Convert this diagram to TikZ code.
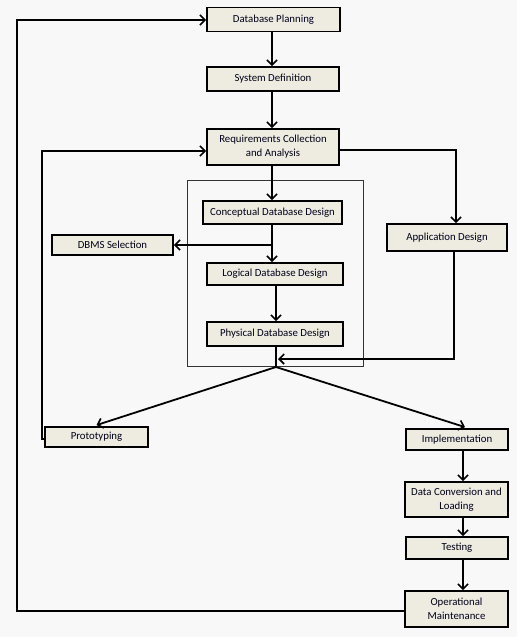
\documentclass[tikz,border=0pt]{standalone}
\usepackage{fontspec}
\setmainfont{Carlito}
\usetikzlibrary{arrows.meta,positioning,calc}
\definecolor{bg}{HTML}{F8F8F8}
\definecolor{boxfill}{HTML}{EEEBE0}
\tikzset{
  stepbox/.style={draw=black,line width=1.8pt,fill=boxfill,inner sep=1pt,align=center,font=\fontsize{10.8}{14}\selectfont,text=black!90!blue},
  conn/.style={line width=1.8pt,-{Straight Barb[length=5pt,width=10pt,line width=1.6pt]}},
  plain/.style={line width=1.8pt},
}
\begin{document}
\begin{tikzpicture}[x=1pt,y=-1pt]
\fill[bg] (0,0) rectangle (517,637);
\useasboundingbox (0,0) rectangle (517,637);
% outer thin frame
\draw[line width=0.8pt, black!80] (187,180) rectangle (363,366);
\node[stepbox,minimum width=133pt,minimum height=24pt] (dp) at (273.5,19.5) {Database Planning};
\node[stepbox,minimum width=132pt,minimum height=24pt] (sd) at (273,79) {System Definition};
\node[stepbox,minimum width=132pt,minimum height=36pt] (req) at (273,147) {Requirements Collection\\and Analysis};
\node[stepbox,minimum width=139pt,minimum height=23pt] (con) at (272.5,212.5) {Conceptual Database Design};
\node[stepbox,minimum width=121pt,minimum height=20pt] (dbms) at (112.5,245) {DBMS Selection};
\node[stepbox,minimum width=136pt,minimum height=22pt] (log) at (275,274) {Logical Database Design};
\node[stepbox,minimum width=136pt,minimum height=24pt] (phy) at (275,334) {Physical Database Design};
\node[stepbox,minimum width=120pt,minimum height=27pt] (app) at (447,237.5) {Application Design};
\node[stepbox,minimum width=103pt,minimum height=20pt] (proto) at (96.5,437) {Prototyping};
\node[stepbox,minimum width=102pt,minimum height=21pt] (impl) at (457,439.5) {Implementation};
\node[stepbox,minimum width=103pt,minimum height=35pt] (dcl) at (456.5,499.5) {Data Conversion and\\Loading};
\node[stepbox,minimum width=102pt,minimum height=22pt] (test) at (457,548) {Testing};
\node[stepbox,minimum width=103pt,minimum height=36pt] (om) at (456.5,609) {Operational\\Maintenance};
\coordinate (hub) at (276,367);
\coordinate (br) at (272,245);
% main vertical flow
\draw[conn] (dp.south -| 272,0) -- (sd.north -| 272,0);
\draw[conn] (sd.south -| 272,0) -- (req.north -| 272,0);
\draw[conn] (req.south -| 272,0) -- (con.north -| 272,0);
\draw[conn] (con.south -| 272,0) -- (log.north -| 272,0);
\draw[conn] (br) -- (dbms.east);
\draw[conn] (log.south -| 276,0) -- (phy.north -| 276,0);
\draw[plain] (phy.south -| 276,0) -- (hub);
% application design branch
\draw[conn] (req.east |- 0,150) -| (app.north -| 456,0);
\draw[conn] (app.south -| 454,0) |- (278,359);
% split
\draw[conn] (hub) -- ($(proto.north)+(0,-1)$);
\draw[conn] (hub) -- ($(impl.north)+(8,-1)$);
% prototyping loop
\draw[conn] (proto.west |- 0,439) -- (42,439) -- (42,151) -- (req.west |- 0,151);
% lower chain
\draw[conn] (impl.south -| 463,0) -- (dcl.north -| 463,0);
\draw[conn] (dcl.south -| 463,0) -- (test.north -| 463,0);
\draw[conn] (test.south -| 463,0) -- (om.north -| 463,0);
% maintenance loop
\draw[conn] (om.west |- 0,611) -- (17,611) -- (17,20) -- (dp.west |- 0,20);
\end{tikzpicture}
\end{document}
